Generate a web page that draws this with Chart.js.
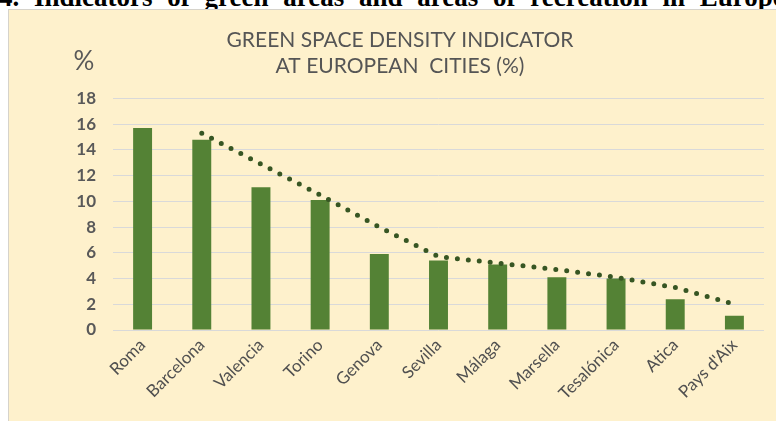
<!DOCTYPE html>
<html>
<head>
<meta charset="utf-8">
<script src="https://cdn.jsdelivr.net/npm/chart.js@4.4.1/dist/chart.umd.min.js"></script>
<style>
  html, body { margin: 0; padding: 0; background: #fff; overflow: hidden; }
  body { width: 776px; height: 421px; position: relative; }
  #caption {
    position: absolute; left: -1px; top: -16px; white-space: nowrap;
    font-family: "Liberation Serif", "Times New Roman", serif; font-weight: bold;
    font-size: 27px; line-height: 27px; word-spacing: 8px; color: #000;
  }
  #panel {
    position: absolute; left: 8px; top: 9px; width: 768px; height: 412px;
    background: #FEF1CC; border-left: 1px solid #D6D3CB; border-top: 1px solid #D6D3CB;
  }
  #chartWrap { position: absolute; left: 1px; top: 1px; width: 767px; height: 411px; }
</style>
</head>
<body>
<div id="caption">4. Indicators of green areas and areas of recreation in Europe</div>
<div id="panel">
  <div id="chartWrap"><canvas id="greenChart"></canvas></div>
</div>
<script>
// Datos
const ciudades = ['Roma', 'Barcelona', 'Valencia', 'Torino', 'Genova', 'Sevilla', 'Málaga', 'Marsella', 'Tesalónica', 'Atica', "Pays d'Aix"];
const densidad = [15.7, 14.8, 11.1, 10.1, 5.9, 5.4, 5.1, 4.1, 4.0, 2.4, 1.1];
// línea de tendencia punteada
const tendencia = [null, 15.3, 12.9, 10.5, 8.0, 5.7, 5.2, 4.7, 4.1, 3.3, 2.0];
const yTicks = [0, 2, 4, 6, 8, 10, 12, 14, 16, 18];

const gris = '#595959';

// Dibuja el "%" encima del eje Y
const pctLabel = {
  id: 'pctLabel',
  afterDraw(chart) {
    const ctx = chart.ctx;
    ctx.save();
    ctx.fillStyle = gris;
    ctx.font = '26px Lato';
    ctx.textAlign = 'center';
    ctx.textBaseline = 'middle';
    ctx.fillText('%', 74, 51);
    ctx.restore();
  }
};

document.addEventListener('DOMContentLoaded', function() {
  const ctx = document.getElementById('greenChart');
  new Chart(ctx.getContext('2d'), {
    data: {
      labels: ciudades,
      datasets: [
        { type: 'line', data: tendencia, borderColor: '#375623', borderWidth: 5, borderDash: [0, 11], borderCapStyle: 'round', pointRadius: 0, fill: false, tension: 0 },
        { type: 'bar', data: densidad, backgroundColor: '#548235', barPercentage: 0.32, categoryPercentage: 1.0 }
      ]
    },
    options: {
      responsive: true, maintainAspectRatio: false, animation: false,
      layout: { padding: { left: 26, right: 13, top: 0, bottom: 0 } },
      plugins: {
        legend: { display: false }, tooltip: { enabled: false },
        title: { display: true, text: ['GREEN SPACE DENSITY INDICATOR', 'AT EUROPEAN  CITIES (%)'], color: '#555555', font: { family: 'Lato', size: 21, weight: 'normal', lineHeight: 1.25 }, padding: { top: 16, bottom: 19 } }
      },
      scales: {
        x: {
          grid: { display: false, drawTicks: false }, border: { display: false },
          ticks: { color: '#505050', font: { family: 'Lato', size: 17 }, maxRotation: 45, minRotation: 45, padding: 5 },
          afterFit(scale) { scale.height = 92; }
        },
        y: {
          min: 0, max: 18,
          afterBuildTicks(scale) { scale.ticks = yTicks.map(v => ({ value: v })); },
          grid: { color: '#D9D9D9', lineWidth: 1, drawTicks: false }, border: { display: false },
          ticks: { color: gris, font: { family: 'Lato', size: 17, weight: 'bold' }, padding: 17 },
          afterFit(scale) { scale.width = 77; }
        }
      }
    },
    plugins: [pctLabel]
  });
});
</script>
</body>
</html>
